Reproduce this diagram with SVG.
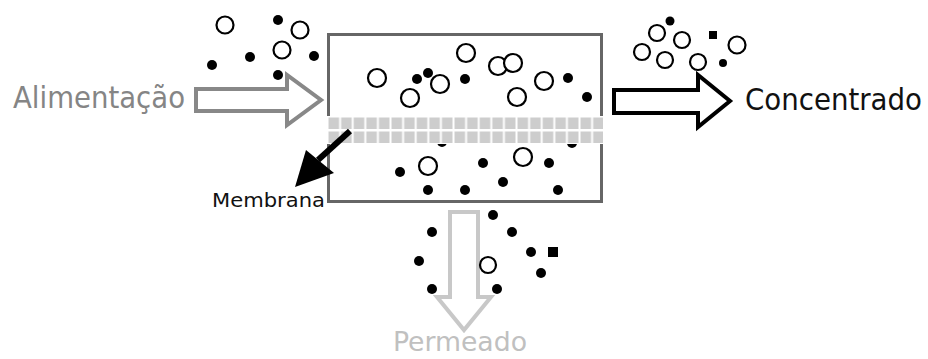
<svg xmlns="http://www.w3.org/2000/svg" width="928" height="359" viewBox="0 0 928 359">
<defs>
<style>
.o{fill:#fff;stroke:#000;stroke-width:2.2}
.f{fill:#000}
.lbl{font-family:"DejaVu Sans Condensed","DejaVu Sans","Liberation Sans",sans-serif}
</style>
<pattern id="grid" x="327" y="116" width="12.6" height="14" patternUnits="userSpaceOnUse">
<rect width="12.6" height="14" fill="#fff"/>
<rect x="1.5" y="1.5" width="10.6" height="11.5" fill="#cdcdcd"/>
</pattern>
</defs>
<rect width="928" height="359" fill="#fff"/>
<g id="module">
<rect x="328.5" y="34.5" width="273" height="167" fill="#fff" stroke="#666" stroke-width="3"/>
</g>
<g id="particles">
<circle class="f" cx="442" cy="142" r="5"/>
<circle class="f" cx="572" cy="143" r="5"/>
</g>
<g id="membrane">
<rect x="327" y="116" width="276" height="28" fill="url(#grid)"/>
</g>
<g id="particles-feed">
<circle class="o" cx="225" cy="25" r="8.5"/>
<circle class="f" cx="278" cy="20" r="5"/>
<circle class="o" cx="300" cy="30" r="8.5"/>
<circle class="o" cx="282" cy="50" r="8.5"/>
<circle class="f" cx="250" cy="57" r="5"/>
<circle class="f" cx="314" cy="56" r="5"/>
<circle class="f" cx="212" cy="65" r="5"/>
<circle class="f" cx="278" cy="75" r="5"/>
</g>
<g id="particles-top">
<circle class="o" cx="377" cy="78" r="9"/>
<circle class="o" cx="410" cy="98" r="9"/>
<circle class="f" cx="417" cy="79" r="5"/>
<circle class="f" cx="428" cy="73" r="5"/>
<circle class="o" cx="440" cy="84" r="9"/>
<circle class="o" cx="466" cy="53" r="9"/>
<circle class="f" cx="465" cy="79" r="5"/>
<circle class="o" cx="498" cy="66" r="9"/>
<circle class="o" cx="513" cy="63" r="9"/>
<circle class="o" cx="517" cy="97" r="9"/>
<circle class="o" cx="544" cy="81" r="9"/>
<circle class="f" cx="568" cy="78" r="5"/>
<circle class="f" cx="587" cy="97" r="5"/>
</g>
<g id="particles-bottom">
<circle class="f" cx="400" cy="172" r="5"/>
<circle class="o" cx="428" cy="166" r="9"/>
<circle class="f" cx="483" cy="163" r="5"/>
<circle class="o" cx="523" cy="157" r="9"/>
<circle class="f" cx="549" cy="163" r="5"/>
<circle class="f" cx="503" cy="182" r="5"/>
<circle class="f" cx="428" cy="190" r="5"/>
<circle class="f" cx="465" cy="190" r="5"/>
<circle class="f" cx="558" cy="190" r="5"/>
</g>
<g id="particles-concentrate">
<circle class="f" cx="670" cy="21" r="4.5"/>
<circle class="o" cx="657" cy="33" r="8"/>
<circle class="o" cx="682" cy="40" r="8"/>
<rect class="f" x="709" y="31" width="8" height="8"/>
<circle class="o" cx="737" cy="45" r="8.5"/>
<circle class="o" cx="642" cy="52" r="8"/>
<circle class="o" cx="665" cy="60" r="8"/>
<circle class="o" cx="698" cy="62" r="8"/>
<circle class="f" cx="723" cy="63" r="4"/>
</g>
<g id="connectors">
<polygon points="196,89 287,89 287,75 321,100 287,125 287,111 196,111" fill="#fff" stroke="#888" stroke-width="4"/>
<polygon points="614,90 698,90 698,75 730,101 698,127 698,113 614,113" fill="#fff" stroke="#000" stroke-width="4"/>
<polygon points="450,212 478,212 478,297 491,297 464,330 437,297 450,297" fill="#fff" stroke="#c8c8c8" stroke-width="4"/>
<line x1="350" y1="131" x2="318" y2="160" stroke="#000" stroke-width="6"/>
<polygon points="295,187 306,150 334,173" fill="#000"/>
</g>
<g id="particles-permeate">
<circle class="f" cx="493" cy="215" r="5"/>
<circle class="f" cx="432" cy="232" r="5"/>
<circle class="f" cx="512" cy="232" r="5"/>
<circle class="f" cx="531" cy="252" r="5"/>
<rect class="f" x="548" y="247" width="10" height="10"/>
<circle class="f" cx="419" cy="261" r="5"/>
<circle class="o" cx="488" cy="265" r="8"/>
<circle class="f" cx="541" cy="273" r="5"/>
<circle class="f" cx="432" cy="289" r="5"/>
<circle class="f" cx="497" cy="289" r="5"/>
</g>
<g id="labels">
<text class="lbl" x="13" y="108" font-size="30" fill="#858585" textLength="172" lengthAdjust="spacingAndGlyphs">Alimentação</text>
<text class="lbl" x="745" y="110" font-size="30" fill="#111" textLength="177" lengthAdjust="spacingAndGlyphs">Concentrado</text>
<text class="lbl" x="212" y="207" font-size="20" fill="#111" textLength="113" lengthAdjust="spacingAndGlyphs">Membrana</text>
<text class="lbl" x="393" y="351" font-size="27" fill="#c0c0c0" textLength="134" lengthAdjust="spacingAndGlyphs">Permeado</text>
</g>
</svg>
